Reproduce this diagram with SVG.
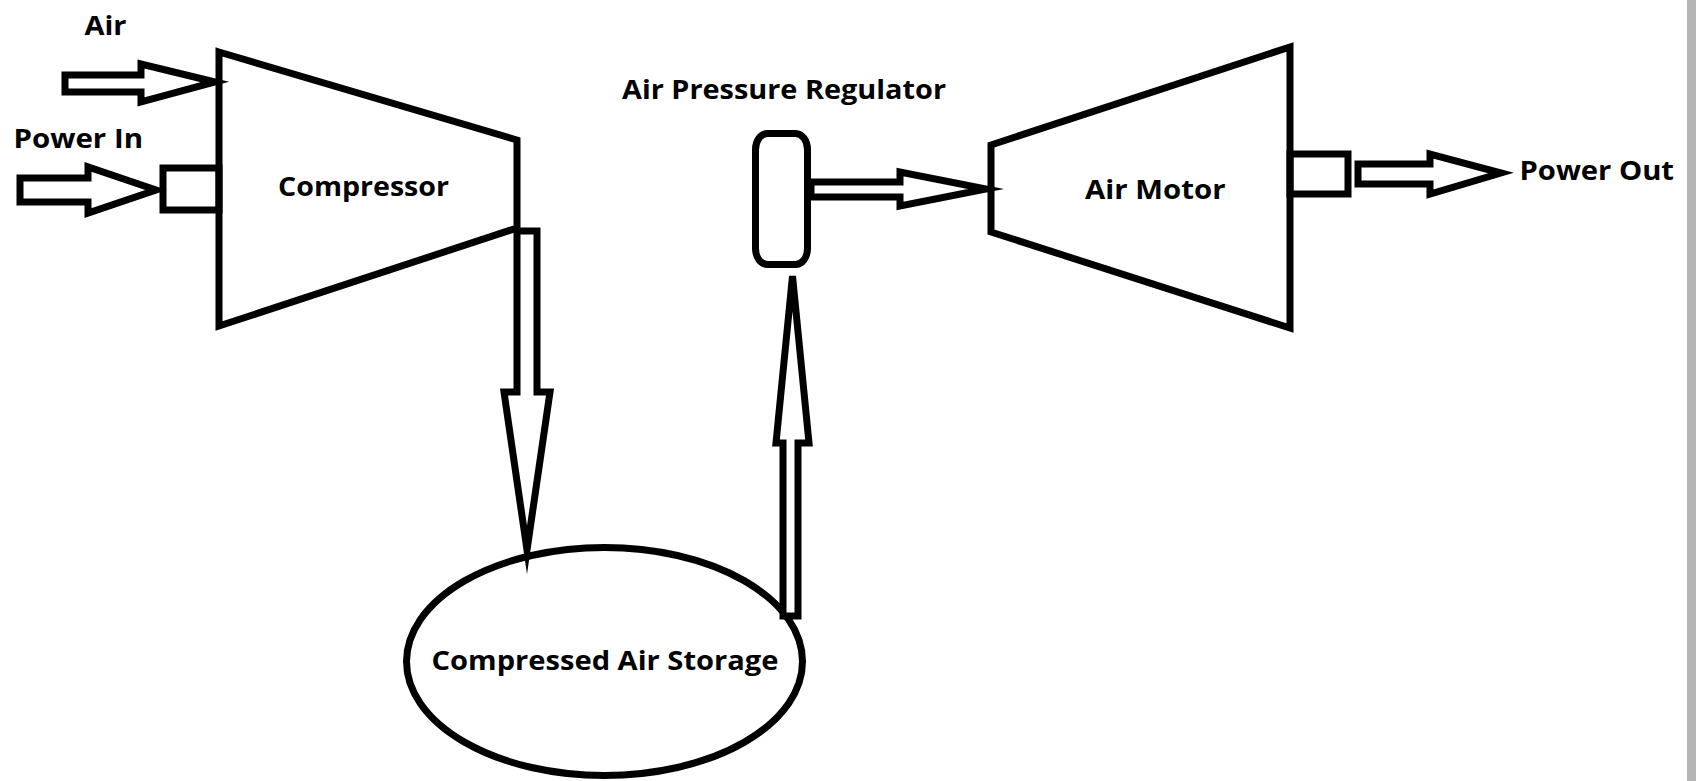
<svg xmlns="http://www.w3.org/2000/svg" width="1696" height="781" viewBox="0 0 1696 781">
<style>
.s{fill:none;stroke:#000;stroke-width:7;stroke-linejoin:miter;stroke-miterlimit:10}
.w{fill:#fff;stroke:#000;stroke-width:7;stroke-linejoin:miter;stroke-miterlimit:10}
.t{font-family:"Open Sans","Liberation Sans",sans-serif;font-weight:bold;font-size:27px;fill:#000}
</style>
<rect x="0" y="0" width="1696" height="781" fill="#fff"/>
<rect x="1687" y="0" width="9" height="781" fill="#b4b4b4"/>
<g id="compressor">
<polygon class="s" points="219,52 517,140 517,228 219,326"/>
<rect class="s" x="163" y="168" width="56" height="42"/>
<text class="t" x="278" y="196" textLength="171" lengthAdjust="spacingAndGlyphs">Compressor</text>
</g>
<g id="storage">
<ellipse class="s" cx="604.5" cy="661.5" rx="198" ry="114"/>
<text class="t" x="431.5" y="670" textLength="347" lengthAdjust="spacingAndGlyphs">Compressed Air Storage</text>
</g>
<g id="regulator">
<rect class="s" x="755.5" y="133.5" width="52" height="131" rx="12" ry="16"/>
<text class="t" x="622" y="99" textLength="324" lengthAdjust="spacingAndGlyphs">Air Pressure Regulator</text>
</g>
<g id="motor">
<polygon class="s" points="991,145 1290,47 1290,328 991,232"/>
<rect class="s" x="1290" y="154" width="58" height="40"/>
<text class="t" x="1085" y="199" textLength="140.5" lengthAdjust="spacingAndGlyphs">Air Motor</text>
</g>
<g id="labels">
<text class="t" x="84.5" y="35" textLength="42" lengthAdjust="spacingAndGlyphs">Air</text>
<text class="t" x="13.5" y="148" textLength="129.5" lengthAdjust="spacingAndGlyphs">Power In</text>
<text class="t" x="1519.5" y="180" textLength="154.5" lengthAdjust="spacingAndGlyphs">Power Out</text>
</g>
<g id="connectors">
<polygon class="s" points="65,75 141,75 141,64 215,82 141,102 141,92 65,92"/>
<polygon class="s" points="20,178 88,178 88,167 156,190 88,213 88,202 20,202"/>
<polygon class="s" points="517,231 537,231 537,392 550,392 527,550 504,392 517,392"/>
<polygon class="w" points="783,616 783,443 776,443 792.5,276 809,443 798,443 798,616"/>
<polygon class="s" points="811,182 900,182 900,172 986,189 900,206 900,197 811,197"/>
<polygon class="s" points="1358,164 1430,164 1430,154 1501,173 1430,194 1430,184 1358,184"/>
</g>
</svg>
